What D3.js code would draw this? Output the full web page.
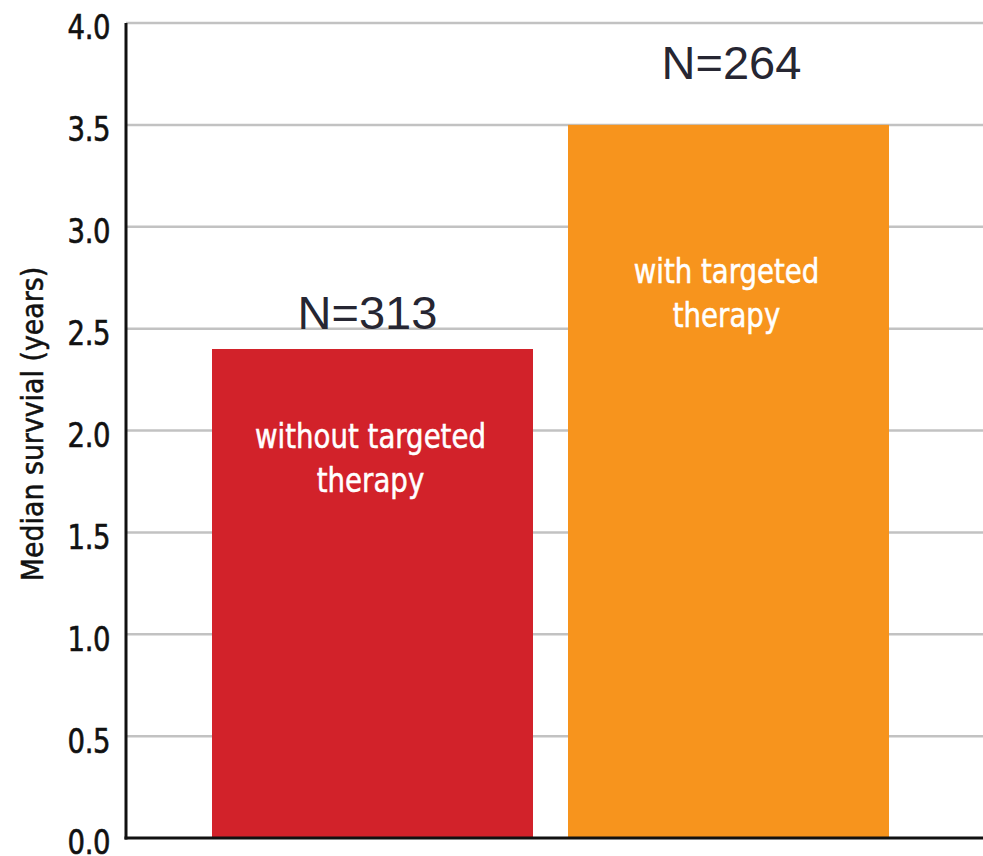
<!DOCTYPE html>
<html>
<head>
<meta charset="utf-8">
<script src="https://cdn.jsdelivr.net/npm/d3@7/dist/d3.min.js"></script>
<style>
  html, body { margin: 0; padding: 0; background: #fff; }
  svg { display: block; }
</style>
</head>
<body>
<svg id="chart" width="983" height="856"></svg>
<script>
// ---- data ----
const categories = ["without targeted therapy", "with targeted therapy"];
const labelLines = [["without targeted", "therapy"], ["with targeted", "therapy"]];
const values = [2.4, 3.5];
const nLabels = ["N=313", "N=264"];
const yTicks = [0, 0.5, 1.0, 1.5, 2.0, 2.5, 3.0, 3.5, 4.0];
const yTitle = "Median survvial (years)";
const barColors = ["#D2222A", "#F7941D"];

// ---- layout ----
const W = 983, H = 856;
const x0 = 126, yTop = 23, yBottom = 838;
const svg = d3.select("#chart");

const y = d3.scaleLinear().domain([0, 4]).range([yBottom, yTop]);
const x = d3.scaleBand().domain(categories).range([212, 889]).paddingInner(35 / 356).paddingOuter(0);

const condensed = "'Liberation Sans Narrow', 'DejaVu Sans Condensed', 'DejaVu Sans', sans-serif";

// gridlines
svg.append("g").selectAll("line").data(yTicks.filter(d => d > 0)).join("line")
  .attr("x1", x0).attr("x2", W)
  .attr("y1", d => y(d)).attr("y2", d => y(d))
  .attr("stroke", "#c2c2c2").attr("stroke-width", 2.5);

// y axis
const yAxis = d3.axisLeft(y).tickValues(yTicks).tickFormat(d3.format(".1f")).tickSize(0).tickPadding(0);
const gy = svg.append("g").attr("transform", `translate(${x0},0)`).call(yAxis);
gy.select(".domain").remove();
gy.selectAll("text")
  .attr("x", 0)
  .attr("transform", "translate(-16,0) scale(0.9,1)")
  .attr("font-family", condensed)
  .attr("font-size", 34)
  .attr("fill", "#111")
  .attr("stroke", "#111")
  .attr("stroke-width", 0.6)
  .attr("letter-spacing", "-0.5")
  .attr("dy", "0.47em");

// bars
svg.append("g").selectAll("rect").data(categories).join("rect")
  .attr("x", d => x(d))
  .attr("width", x.bandwidth())
  .attr("y", (d, i) => y(values[i]))
  .attr("height", (d, i) => y(0) - y(values[i]))
  .attr("fill", (d, i) => barColors[i]);

// axis lines
svg.append("line").attr("x1", x0).attr("x2", x0).attr("y1", yTop).attr("y2", yBottom + 1.5)
  .attr("stroke", "#111").attr("stroke-width", 3);
svg.append("line").attr("x1", x0 - 1.5).attr("x2", W).attr("y1", yBottom).attr("y2", yBottom)
  .attr("stroke", "#111").attr("stroke-width", 3);

// in-bar labels
const labelTop = [99, 158];
categories.forEach((c, i) => {
  const g = svg.append("g")
    .attr("transform", `translate(${x(c) + x.bandwidth() / 2 - 2},${y(values[i]) + labelTop[i]}) scale(0.93,1)`);
  const t = g.append("text")
    .attr("text-anchor", "middle")
    .attr("font-family", condensed)
    .attr("font-size", 33)
    .attr("fill", "#fff")
    .attr("stroke", "#fff")
    .attr("stroke-width", 0.5);
  labelLines[i].forEach((line, j) => {
    t.append("tspan")
      .attr("x", 0)
      .attr("y", j * 44)
      .text(line);
  });
});

// N labels
const nOffsetX = [-5, 3];
const nOffset = [-20, -46];
svg.append("g").selectAll("text").data(categories).join("text")
  .attr("x", (d, i) => x(d) + x.bandwidth() / 2 + nOffsetX[i])
  .attr("y", (d, i) => y(values[i]) + nOffset[i])
  .attr("text-anchor", "middle")
  .attr("font-family", "'Liberation Sans', Arial, sans-serif")
  .attr("font-size", 47)
  .attr("fill", "#262632")
  .text((d, i) => nLabels[i]);

// y title
svg.append("text")
  .attr("transform", `translate(43, 424) rotate(-90)`)
  .attr("text-anchor", "middle")
  .attr("font-family", condensed)
  .attr("font-size", 29.8)
  .attr("fill", "#111")
  .attr("stroke", "#111")
  .attr("stroke-width", 0.5)
  .text(yTitle);
</script>
</body>
</html>
